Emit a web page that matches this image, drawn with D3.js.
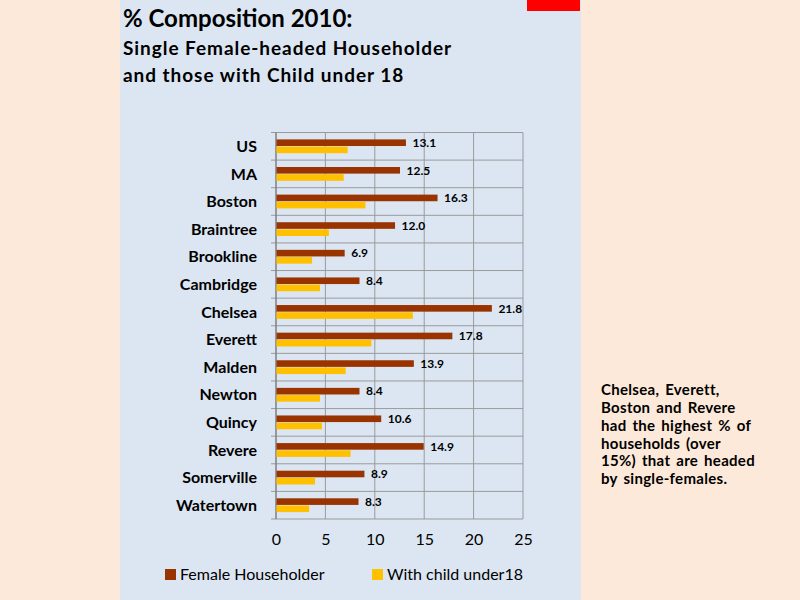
<!DOCTYPE html>
<html>
<head>
<meta charset="utf-8">
<script src="https://cdn.jsdelivr.net/npm/d3@7"></script>
<style>
  body { margin: 0; background: #fde9d9; }
  svg { display: block; }
  text { font-family: Lato, "Open Sans", sans-serif; fill: #000; }
</style>
</head>
<body>
<div id="chart"></div>
<script>
// chart data
const places = ["US", "MA", "Boston", "Braintree", "Brookline", "Cambridge", "Chelsea",
  "Everett", "Malden", "Newton", "Quincy", "Revere", "Somerville", "Watertown"];
const femaleHouseholder = [13.1, 12.5, 16.3, 12.0, 6.9, 8.4, 21.8, 17.8, 13.9, 8.4, 10.6, 14.9, 8.9, 8.3];
const withChild = [7.2, 6.8, 9.0, 5.3, 3.6, 4.4, 13.8, 9.6, 7.0, 4.4, 4.6, 7.5, 3.9, 3.3];
const seriesNames = ["Female Householder", "With child under18"];
const xTicks = [0, 5, 10, 15, 20, 25];
const noteLines = ["Chelsea, Everett,", "Boston and Revere", "had the highest % of",
  "households (over", "15%) that are headed", "by single-females."];

const colors = ["#993300", "#ffc000"];

const svg = d3.select("#chart")
    .append("svg")
    .attr("width", 800)
    .attr("height", 600);

// slide backdrop
svg.append("rect").attr("width", 800).attr("height", 600).attr("fill", "#fde9d9");
svg.append("rect").attr("x", 120).attr("y", 0).attr("width", 461).attr("height", 600).attr("fill", "#dce6f2");
svg.append("rect").attr("x", 527).attr("y", 0).attr("width", 53).attr("height", 11).attr("fill", "#ff0000");

// titles
svg.append("text").attr("x", 123).attr("y", 27)
    .style("font-size", "24px").style("font-weight", "bold")
    .text("% Composition 2010:");
svg.append("text").attr("x", 123).attr("y", 55)
    .style("font-size", "19px").style("font-weight", "bold")
    .style("letter-spacing", "0.95px")
    .text("Single Female-headed Householder");
svg.append("text").attr("x", 123).attr("y", 82)
    .style("font-size", "19px").style("font-weight", "bold")
    .style("letter-spacing", "0.95px")
    .text("and those with Child under 18");

// plot area
const plotLeft = 276, plotRight = 523, plotTop = 132.5, plotBottom = 519;

const x = d3.scaleLinear().domain([0, 25]).range([plotLeft, plotRight]);

const y0 = d3.scaleBand()
    .domain(places)
    .range([plotTop, plotBottom])
    .paddingInner(0.5)
    .paddingOuter(0.25);

const y1 = d3.scaleBand()
    .domain([0, 1])
    .range([0, y0.bandwidth()])
    .paddingInner(0.08);

const step = y0.step();
const boundaries = d3.range(places.length + 1).map(i => plotTop + i * step);

// gridlines
svg.append("g").selectAll("line")
    .data(xTicks.slice(1))
    .enter().append("line")
    .attr("x1", d => x(d)).attr("x2", d => x(d))
    .attr("y1", plotTop).attr("y2", plotBottom)
    .attr("stroke", "#9a9a9a").attr("stroke-width", 1);

svg.append("g").selectAll("line")
    .data(boundaries)
    .enter().append("line")
    .attr("x1", plotLeft - 5).attr("x2", plotRight)
    .attr("y1", d => d).attr("y2", d => d)
    .attr("stroke", "#9a9a9a").attr("stroke-width", 1);

// y axis line
svg.append("line")
    .attr("x1", plotLeft).attr("x2", plotLeft)
    .attr("y1", plotTop).attr("y2", plotBottom)
    .attr("stroke", "#7f7f7f").attr("stroke-width", 1.5);

// bars
const rows = places.map((p, i) => ({ place: p, values: [femaleHouseholder[i], withChild[i]] }));

const groups = svg.append("g").selectAll("g")
    .data(rows)
    .enter().append("g")
    .attr("transform", d => `translate(0, ${y0(d.place)})`);

groups.selectAll("rect")
    .data(d => d.values.map((v, k) => ({ k: k, v: v })))
    .enter().append("rect")
    .attr("x", x(0) + 0.5)
    .attr("y", d => y1(d.k))
    .attr("width", d => x(d.v) - x(0))
    .attr("height", y1.bandwidth())
    .attr("fill", d => colors[d.k]);

// data labels on the red bars
groups.append("text")
    .attr("x", d => x(d.values[0]) + 7)
    .attr("y", y1(0) + y1.bandwidth() / 2)
    .attr("dy", "0.35em")
    .style("font-size", "12px")
    .style("font-weight", "bold")
    .text(d => d.values[0].toFixed(1));

// category labels
svg.append("g").selectAll("text")
    .data(places)
    .enter().append("text")
    .attr("x", 257)
    .attr("y", d => y0(d) + y0.bandwidth() / 2)
    .attr("dy", "0.35em")
    .attr("text-anchor", "end")
    .style("font-size", "16px")
    .style("font-weight", "bold")
    .text(d => d);

// x axis tick labels
const xAxis = svg.append("g")
    .attr("transform", `translate(0, ${plotBottom})`)
    .call(d3.axisBottom(x).tickValues(xTicks).tickSize(0).tickPadding(15));
xAxis.select(".domain").remove();
xAxis.selectAll("text")
    .style("font-family", "Lato, 'Open Sans', sans-serif")
    .style("font-size", "16px")
    .attr("fill", "#000");

// legend
const legend = svg.append("g").selectAll("g")
    .data(seriesNames)
    .enter().append("g")
    .attr("transform", (d, i) => `translate(${i === 0 ? 165 : 372}, 569)`);

legend.append("rect")
    .attr("width", 11).attr("height", 11)
    .attr("fill", (d, i) => colors[i]);

legend.append("text")
    .attr("x", 15).attr("y", 5.5)
    .attr("dy", "0.35em")
    .style("font-size", "16px")
    .text(d => d);

// side note
svg.append("g").selectAll("text")
    .data(noteLines)
    .enter().append("text")
    .attr("x", 601)
    .attr("y", (d, i) => 390 + i * 17.8)
    .attr("dy", "0.35em")
    .style("font-size", "15px")
    .style("font-weight", "bold")
    .style("word-spacing", "2px")
    .style("letter-spacing", "0.3px")
    .text(d => d);
</script>
</body>
</html>
